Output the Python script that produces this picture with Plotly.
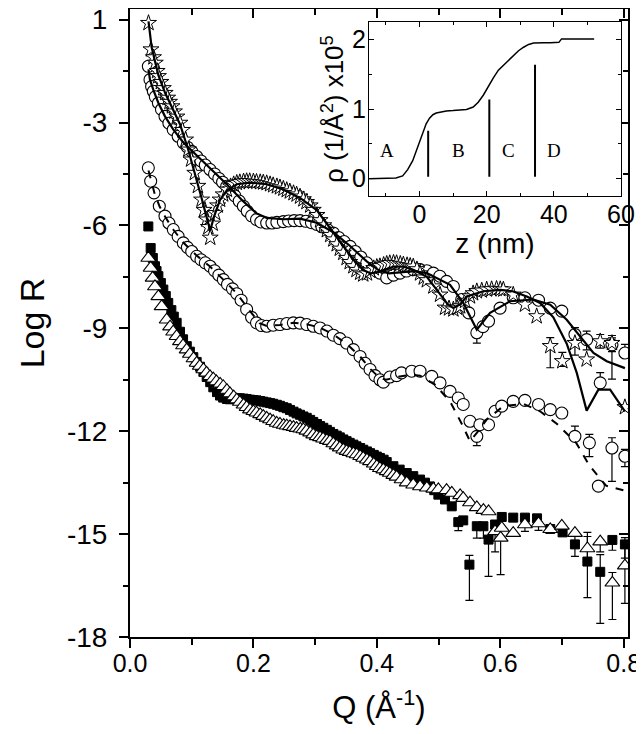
import plotly.graph_objects as go

# ---- reflectivity data (Q in 1/A, log R) ----
q_star = [0.030, 0.034, 0.038, 0.041, 0.044, 0.046, 0.050, 0.054, 0.057, 0.061, 0.064, 0.068,
          0.072, 0.076, 0.081, 0.085, 0.090, 0.0945, 0.099, 0.105, 0.110, 0.116, 0.120, 0.124,
          0.127, 0.130, 0.134, 0.138, 0.142, 0.146, 0.151, 0.157, 0.163, 0.168, 0.173, 0.178,
          0.184, 0.189, 0.194, 0.200, 0.205, 0.211, 0.216, 0.2215, 0.227, 0.232, 0.238, 0.243,
          0.2485, 0.254, 0.259, 0.265, 0.270, 0.2755, 0.281, 0.286, 0.292, 0.297, 0.303, 0.308,
          0.314, 0.319, 0.3245, 0.3295, 0.335, 0.340, 0.3457, 0.351, 0.356, 0.362, 0.367, 0.373,
          0.378, 0.384, 0.389, 0.395, 0.400, 0.405, 0.411, 0.416, 0.421, 0.427, 0.432, 0.438,
          0.443, 0.449, 0.454, 0.459, 0.465, 0.470, 0.476, 0.481, 0.4916, 0.5024, 0.5105, 0.517,
          0.524, 0.530, 0.535, 0.543, 0.551, 0.556, 0.562, 0.570, 0.578, 0.586, 0.594, 0.600,
          0.605, 0.621, 0.640, 0.659, 0.681, 0.7006, 0.721, 0.740, 0.762, 0.781, 0.802]
r_star = [-0.10, -0.87, -1.10, -1.26, -1.50, -1.65, -1.82, -2.00, -2.14, -2.28, -2.40, -2.53,
          -2.68, -2.83, -3.01, -3.22, -3.50, -3.79, -4.08, -4.47, -4.85, -5.25, -5.55, -5.83,
          -6.05, -6.36, -5.95, -5.64, -5.42, -5.25, -5.10, -4.96, -4.86, -4.80, -4.76, -4.74,
          -4.72, -4.71, -4.71, -4.72, -4.73, -4.74, -4.75, -4.77, -4.80, -4.83, -4.86, -4.89,
          -4.93, -4.97, -5.01, -5.06, -5.10, -5.16, -5.24, -5.32, -5.42, -5.55, -5.70, -5.85,
          -6.00, -6.14, -6.28, -6.41, -6.55, -6.68, -6.80, -6.95, -7.07, -7.19, -7.30, -7.38,
          -7.43, -7.40, -7.32, -7.25, -7.21, -7.19, -7.15, -7.12, -7.10, -7.09, -7.10, -7.12,
          -7.14, -7.16, -7.18, -7.20, -7.28, -7.40, -7.52, -7.60, -7.78, -8.02, -8.40, -8.42,
          -8.45, -8.40, -8.36, -8.20, -8.07, -7.98, -7.92, -7.90, -7.87, -7.86, -7.85, -7.86,
          -7.87, -8.02, -8.31, -8.65, -9.52, -9.96, -9.43, -9.91, -9.38, -9.43, -11.30]

q_circ1 = [0.0297, 0.0324, 0.0350, 0.0378, 0.041, 0.046, 0.051, 0.0567, 0.063, 0.070, 0.078,
           0.0864, 0.093, 0.100, 0.108, 0.115, 0.122, 0.1297, 0.137, 0.144, 0.150, 0.1567,
           0.163, 0.170, 0.177, 0.1837, 0.190, 0.197, 0.205, 0.212, 0.2215, 0.230, 0.238,
           0.2485, 0.257, 0.266, 0.2755, 0.285, 0.294, 0.3026, 0.311, 0.320, 0.3295, 0.338,
           0.347, 0.3566, 0.365, 0.374, 0.3836, 0.394, 0.405, 0.416, 0.427, 0.4376, 0.448,
           0.459, 0.470, 0.481, 0.4916, 0.502, 0.513, 0.524, 0.5375, 0.549, 0.562, 0.572,
           0.581, 0.5997, 0.621, 0.640, 0.662, 0.681, 0.6997, 0.721, 0.740, 0.762, 0.781, 0.802]
r_circ1 = [-1.36, -1.75, -1.95, -2.09, -2.25, -2.43, -2.62, -2.82, -3.02, -3.21, -3.40,
           -3.59, -3.72, -3.84, -3.99, -4.12, -4.24, -4.37, -4.50, -4.63, -4.74, -4.86,
           -5.00, -5.14, -5.29, -5.44, -5.58, -5.72, -5.83, -5.90, -5.93, -5.93, -5.91,
           -5.89, -5.87, -5.86, -5.86, -5.88, -5.92, -5.97, -6.04, -6.12, -6.22, -6.35,
           -6.47, -6.61, -6.76, -6.92, -7.09, -7.25, -7.39, -7.53, -7.45, -7.39, -7.33,
           -7.29, -7.29, -7.32, -7.39, -7.48, -7.63, -7.78, -8.16, -8.55, -9.13, -8.95,
           -8.79, -8.41, -8.11, -8.11, -8.18, -8.41, -8.50, -9.18, -9.33, -10.59, -9.48, -9.72]

q_circ2 = [0.0297, 0.0335, 0.0389, 0.0475, 0.0567, 0.063, 0.0702, 0.078, 0.0864, 0.093, 0.100,
           0.108, 0.115, 0.122, 0.1297, 0.137, 0.144, 0.1512, 0.158, 0.166, 0.173, 0.180,
           0.189, 0.197, 0.205, 0.213, 0.2215, 0.232, 0.243, 0.254, 0.2647, 0.2755, 0.2864,
           0.297, 0.308, 0.319, 0.3295, 0.340, 0.351, 0.362, 0.3728, 0.381, 0.389, 0.397,
           0.405, 0.4106, 0.421, 0.432, 0.440, 0.4565, 0.470, 0.489, 0.5024, 0.5186, 0.532,
           0.540, 0.551, 0.562, 0.567, 0.581, 0.5916, 0.6024, 0.621, 0.640, 0.662, 0.681,
           0.6997, 0.721, 0.7444, 0.759, 0.781, 0.802]
r_circ2 = [-4.32, -4.71, -5.05, -5.44, -5.73, -5.93, -6.12, -6.32, -6.51, -6.64, -6.76,
           -6.90, -7.00, -7.09, -7.19, -7.32, -7.45, -7.58, -7.72, -7.85, -7.99, -8.18,
           -8.45, -8.68, -8.84, -8.92, -8.94, -8.91, -8.89, -8.86, -8.84, -8.85, -8.89,
           -8.94, -8.99, -9.08, -9.20, -9.30, -9.43, -9.62, -9.82, -10.02, -10.20, -10.38,
           -10.50, -10.57, -10.42, -10.38, -10.30, -10.25, -10.25, -10.40, -10.59, -10.84, -11.03,
           -11.22, -11.71, -12.15, -11.81, -11.81, -11.42, -11.27, -11.13, -11.10, -11.22, -11.37,
           -11.47, -12.15, -12.34, -13.60, -12.49, -12.73]

q_sq = [0.0297, 0.0335, 0.037, 0.0405, 0.043, 0.046, 0.050, 0.054, 0.058, 0.062, 0.067, 0.071,
        0.0756, 0.081, 0.086, 0.092, 0.097, 0.1026, 0.108, 0.1135, 0.119, 0.1243, 0.130, 0.135,
        0.141, 0.1459, 0.151, 0.157, 0.162, 0.1675, 0.173, 0.178, 0.184, 0.189, 0.1945, 0.200,
        0.205, 0.211, 0.216, 0.2215, 0.227, 0.232, 0.238, 0.243, 0.2485, 0.254, 0.2593, 0.265,
        0.270, 0.2755, 0.281, 0.2864, 0.292, 0.297, 0.303, 0.308, 0.3133, 0.319, 0.324, 0.3295,
        0.335, 0.340, 0.3457, 0.351, 0.356, 0.362, 0.367, 0.373, 0.378, 0.384, 0.389, 0.395,
        0.400, 0.405, 0.411, 0.416, 0.4268, 0.437, 0.4484, 0.459, 0.470, 0.478, 0.486, 0.493,
        0.4997, 0.5105, 0.5214, 0.532, 0.540, 0.550, 0.562, 0.5727, 0.581, 0.5916, 0.6024,
        0.621, 0.640, 0.6596, 0.681, 0.701, 0.721, 0.7412, 0.762, 0.7817, 0.802]
r_sq = [-6.03, -6.66, -6.95, -7.19, -7.33, -7.48, -7.68, -7.87, -8.06, -8.26, -8.47, -8.66,
        -8.84, -9.10, -9.32, -9.52, -9.68, -9.84, -9.98, -10.12, -10.27, -10.42, -10.57, -10.72,
        -10.86, -10.96, -11.02, -11.06, -11.07, -11.06, -11.04, -11.04, -11.05, -11.06, -11.08, -11.09,
        -11.10, -11.12, -11.14, -11.16, -11.18, -11.20, -11.23, -11.26, -11.30, -11.33, -11.38, -11.43,
        -11.48, -11.52, -11.57, -11.61, -11.67, -11.73, -11.79, -11.85, -11.90, -11.96, -12.02, -12.08,
        -12.13, -12.18, -12.24, -12.29, -12.34, -12.39, -12.44, -12.49, -12.54, -12.59, -12.64, -12.69,
        -12.74, -12.78, -12.83, -12.90, -13.02, -13.12, -13.22, -13.31, -13.41, -13.50, -13.61, -13.72,
        -13.85, -13.99, -14.19, -14.65, -14.60, -15.89, -14.77, -14.77, -15.16, -14.72, -14.50,
        -14.52, -14.52, -14.54, -14.85, -14.95, -15.30, -15.80, -16.10, -15.17, -15.30]

q_tri = [0.0297, 0.0335, 0.0367, 0.0405, 0.046, 0.0513, 0.0594, 0.065, 0.070, 0.0756, 0.081,
         0.086, 0.0918, 0.097, 0.103, 0.108, 0.113, 0.119, 0.124, 0.1297, 0.135, 0.140, 0.146,
         0.1512, 0.157, 0.162, 0.168, 0.173, 0.178, 0.184, 0.189, 0.1945, 0.200, 0.205, 0.211,
         0.216, 0.2215, 0.227, 0.232, 0.2377, 0.243, 0.249, 0.254, 0.2593, 0.265, 0.270, 0.276,
         0.281, 0.286, 0.292, 0.297, 0.3026, 0.308, 0.313, 0.319, 0.324, 0.3295, 0.335, 0.340,
         0.3457, 0.351, 0.356, 0.362, 0.3674, 0.373, 0.378, 0.384, 0.389, 0.395, 0.400, 0.405,
         0.4106, 0.416, 0.421, 0.4268, 0.432, 0.440, 0.4484, 0.459, 0.470, 0.481, 0.4916, 0.4997,
         0.513, 0.5214, 0.535, 0.540, 0.551, 0.562, 0.5727, 0.581, 0.5916, 0.6006, 0.6024, 0.621,
         0.640, 0.662, 0.681, 0.6997, 0.721, 0.7412, 0.762, 0.7817, 0.802]
r_tri = [-6.95, -7.24, -7.53, -7.78, -8.07, -8.36, -8.75, -8.95, -9.10, -9.23, -9.38,
         -9.50, -9.62, -9.75, -9.88, -10.01, -10.10, -10.20, -10.30, -10.40, -10.47, -10.55, -10.62,
         -10.69, -10.80, -10.90, -10.99, -11.08, -11.15, -11.23, -11.30, -11.37, -11.42, -11.46, -11.51,
         -11.56, -11.61, -11.66, -11.71, -11.76, -11.79, -11.82, -11.84, -11.86, -11.88, -11.91, -11.93,
         -11.95, -11.99, -12.04, -12.10, -12.15, -12.18, -12.22, -12.26, -12.29, -12.36, -12.42, -12.48,
         -12.54, -12.58, -12.61, -12.65, -12.68, -12.73, -12.78, -12.83, -12.88, -12.95, -13.02, -13.08,
         -13.12, -13.17, -13.22, -13.28, -13.33, -13.41, -13.50, -13.56, -13.61, -13.65, -13.68, -13.70,
         -13.72, -13.80, -13.87, -13.95, -14.08, -14.22, -14.30, -14.34, -14.92, -15.11, -14.82, -14.97,
         -14.72, -14.69, -14.86, -14.76, -14.97, -15.42, -15.22, -16.42, -15.92]

# error bars: centre, upper and lower extent
star_err_q = [0.681, 0.7006, 0.721, 0.762, 0.781]
star_err_r = [-9.52, -9.96, -9.43, -9.38, -9.43]
star_err_up = [0.25, 0.26, 0.20, 0.20, 0.15]
star_err_dn = [0.63, 0.15, 0.35, 0.20, 0.25]

circ1_err_q = [0.562, 0.721, 0.740, 0.762, 0.781, 0.802]
circ1_err_r = [-9.13, -9.18, -9.33, -10.59, -9.48, -9.72]
circ1_err_up = [0.10, 0.20, 0.25, 0.30, 0.27, 0.25]
circ1_err_dn = [0.30, 0.20, 0.30, 0.10, 1.00, 0.10]

circ2_err_q = [0.562, 0.721, 0.7444, 0.781, 0.802]
circ2_err_r = [-12.15, -12.15, -12.34, -12.49, -12.73]
circ2_err_up = [0.10, 0.30, 0.25, 0.30, 0.20]
circ2_err_dn = [0.27, 0.10, 0.40, 0.97, 0.30]

sq_err_q = [0.532, 0.550, 0.562, 0.5727, 0.581, 0.721, 0.7412, 0.762, 0.7817, 0.802]
sq_err_r = [-14.65, -15.89, -14.77, -14.77, -15.16, -15.30, -15.80, -16.10, -15.17, -15.30]
sq_err_up = [0.05, 0.27, 0.05, 0.05, 0.05, 0.25, 0.85, 0.50, 0.10, 0.20]
sq_err_dn = [0.25, 1.04, 0.35, 0.35, 1.07, 0.35, 1.05, 1.50, 0.30, 0.40]

tri_err_q = [0.5916, 0.6006, 0.640, 0.662, 0.7412, 0.762, 0.7817, 0.802]
tri_err_r = [-14.92, -15.11, -14.72, -14.69, -15.42, -15.22, -16.42, -15.92]
tri_err_up = [0.05, 0.05, 0.05, 0.05, 0.35, 0.05, 0.30, 0.50]
tri_err_dn = [0.60, 1.07, 0.20, 0.20, 0.35, 0.30, 1.07, 1.10]

# model fits
q_fit1 = [0.030, 0.035, 0.041, 0.046, 0.057, 0.068, 0.081, 0.0945, 0.105, 0.116, 0.124, 0.130,
          0.136, 0.146, 0.157, 0.173, 0.194, 0.2215, 0.2485, 0.2755, 0.3026, 0.3295, 0.3457,
          0.362, 0.378, 0.390, 0.405, 0.427, 0.443, 0.460, 0.481, 0.500, 0.515, 0.524, 0.535,
          0.5457, 0.5727, 0.600, 0.620, 0.643, 0.6645, 0.686, 0.7077, 0.724, 0.740, 0.759,
          0.778, 0.802]
r_fit1 = [-0.05, -0.80, -1.25, -1.62, -2.14, -2.55, -3.05, -3.80, -4.45, -5.20, -5.75, -6.15,
          -5.75, -5.25, -4.98, -4.80, -4.75, -4.80, -4.95, -5.20, -5.55, -6.20, -6.60,
          -7.00, -7.30, -7.40, -7.35, -7.20, -7.20, -7.30, -7.50, -7.95, -8.30, -8.41, -8.30,
          -8.07, -7.92, -7.88, -7.92, -8.07, -8.26, -8.68, -9.45, -10.30, -11.40, -10.79,
          -10.79, -11.42]

q_fit2 = [0.030, 0.0324, 0.0378, 0.046, 0.0567, 0.070, 0.0864, 0.108, 0.1297, 0.1567, 0.1837,
          0.205, 0.2215, 0.2485, 0.2755, 0.3026, 0.3295, 0.3566, 0.3836, 0.405, 0.420, 0.4376,
          0.460, 0.481, 0.5186, 0.540, 0.562, 0.5835, 0.616, 0.6537, 0.681, 0.7077, 0.729,
          0.751, 0.7726, 0.802]
r_fit2 = [-1.45, -1.75, -2.05, -2.43, -2.82, -3.20, -3.58, -3.95, -4.33, -4.80, -5.30,
          -5.65, -5.78, -5.82, -5.80, -5.92, -6.20, -6.60, -7.05, -7.33, -7.40, -7.36,
          -7.33, -7.39, -7.73, -8.26, -9.04, -8.55, -8.21, -8.16, -8.31, -8.75, -9.23,
          -9.72, -9.96, -10.16]

q_fit3 = [0.030, 0.035, 0.040, 0.048, 0.057, 0.070, 0.0864, 0.108, 0.1297, 0.1512, 0.173,
          0.1945, 0.210, 0.2215, 0.243, 0.2647, 0.2864, 0.308, 0.3295, 0.351, 0.3728, 0.389,
          0.405, 0.415, 0.432, 0.455, 0.470, 0.494, 0.5186, 0.5375, 0.551, 0.562, 0.578,
          0.605, 0.6375, 0.6645, 0.6915, 0.723, 0.7445, 0.7715, 0.797, 0.805]
r_fit3 = [-4.40, -4.78, -5.08, -5.45, -5.75, -6.12, -6.50, -6.88, -7.20, -7.58, -7.98,
          -8.50, -8.85, -8.93, -8.90, -8.84, -8.88, -8.98, -9.18, -9.45, -9.82, -10.18,
          -10.45, -10.50, -10.42, -10.35, -10.38, -10.64, -11.13, -11.78, -12.29, -12.05, -11.66,
          -11.27, -11.20, -11.42, -11.78, -12.34, -13.00, -13.59, -13.70, -13.75]

y_tickvals = [0, -3, -6, -9, -12, -15, -18]
y_ticktext = ["1", "-3", "-6", "-9", "-12", "-15", "-18"]
x_tickvals = [0.0, 0.2, 0.4, 0.6, 0.8]
x_ticktext = ["0.0", "0.2", "0.4", "0.6", "0.8"]

# ---- inset: density profile ----
z_prof = [-15, -10, -7, -5, -3.5, -2, -1, 0, 1, 2, 3, 4, 5, 6.5, 8, 10, 12, 14, 16, 17.5, 19,
          20.5, 22, 23.5, 25, 26.5, 28, 29.5, 31, 32.5, 34, 35.5, 37, 39, 40.5, 41.5, 42.3, 44,
          48, 52]
rho_prof = [0, 0, 0.01, 0.04, 0.13, 0.26, 0.40, 0.52, 0.66, 0.79, 0.87, 0.92, 0.945, 0.965,
            0.975, 0.98, 0.985, 0.995, 1.03, 1.10, 1.20, 1.33, 1.45, 1.56, 1.63, 1.70, 1.78,
            1.84, 1.89, 1.93, 1.95, 1.955, 1.955, 1.955, 1.955, 1.96, 2.01, 2.01, 2.01, 2.01]
div_z = [2.6, 20.8, 34.4]
div_top = [0.69, 1.14, 1.64]
div_bottom = [0.03, 0.03, 0.03]
region_labels = ["A", "B", "C", "D"]
region_z = [-9.7, 11.6, 26.5, 39.9]
region_rho = [0.41, 0.41, 0.41, 0.41]

FONT = "Liberation Sans, Arial, sans-serif"
SERIF = "Liberation Serif, Times New Roman, serif"

fig = go.Figure()


def err_trace(q, r, up, dn):
    return go.Scatter(
        x=q, y=r, mode="markers", marker=dict(size=1, color="rgba(0,0,0,0)"),
        error_y=dict(type="data", symmetric=False, array=up, arrayminus=dn,
                     color="black", thickness=1.2, width=4),
        showlegend=False, hoverinfo="skip",
    )


for eq, er, eu, ed in [(sq_err_q, sq_err_r, sq_err_up, sq_err_dn),
                       (tri_err_q, tri_err_r, tri_err_up, tri_err_dn),
                       (circ2_err_q, circ2_err_r, circ2_err_up, circ2_err_dn),
                       (circ1_err_q, circ1_err_r, circ1_err_up, circ1_err_dn),
                       (star_err_q, star_err_r, star_err_up, star_err_dn)]:
    fig.add_trace(err_trace(eq, er, eu, ed))

fig.add_trace(go.Scatter(x=q_sq, y=r_sq, mode="markers", showlegend=False,
                         marker=dict(symbol="square", size=9, color="black",
                                     line=dict(color="black", width=1))))
fig.add_trace(go.Scatter(x=q_tri, y=r_tri, mode="markers", showlegend=False,
                         marker=dict(symbol="triangle-up", size=13, color="white",
                                     line=dict(color="black", width=1.1))))
fig.add_trace(go.Scatter(x=q_circ2, y=r_circ2, mode="markers", showlegend=False,
                         marker=dict(symbol="circle", size=12, color="white",
                                     line=dict(color="black", width=1.1))))
fig.add_trace(go.Scatter(x=q_fit3, y=r_fit3, mode="lines", showlegend=False,
                         line=dict(color="black", width=2, dash="8px,8px")))
fig.add_trace(go.Scatter(x=q_circ1, y=r_circ1, mode="markers", showlegend=False,
                         marker=dict(symbol="circle", size=12, color="white",
                                     line=dict(color="black", width=1.1))))
fig.add_trace(go.Scatter(x=q_star, y=r_star, mode="markers", showlegend=False,
                         marker=dict(symbol="star", size=12, color="white",
                                     line=dict(color="black", width=1))))
fig.add_trace(go.Scatter(x=q_fit2, y=r_fit2, mode="lines", showlegend=False,
                         line=dict(color="black", width=2.2)))
fig.add_trace(go.Scatter(x=q_fit1, y=r_fit1, mode="lines", showlegend=False,
                         line=dict(color="black", width=2.2)))

# inward ticks on the top and right edges of the main frame
fig.add_trace(go.Scatter(x=q_fit1[:1], y=r_fit1[:1], xaxis="x3", yaxis="y3", mode="markers",
                         marker=dict(size=1, color="rgba(0,0,0,0)"), showlegend=False,
                         hoverinfo="skip"))

# inset
fig.add_trace(go.Scatter(x=z_prof, y=rho_prof, xaxis="x2", yaxis="y2", mode="lines",
                         line=dict(color="black", width=1.5), showlegend=False))
div_x, div_y = [], []
for z, top, bot in zip(div_z, div_top, div_bottom):
    div_x += [z, z, None]
    div_y += [bot, top, None]
fig.add_trace(go.Scatter(x=div_x, y=div_y, xaxis="x2", yaxis="y2", mode="lines",
                         line=dict(color="black", width=2), showlegend=False))

for lab, z, rho in zip(region_labels, region_z, region_rho):
    fig.add_annotation(x=z, y=rho, xref="x2", yref="y2", text=lab, showarrow=False,
                       font=dict(family=SERIF, size=19, color="black"))

x_range = [0, 0.807]
y_range = [-18, 0.31]
main_axis = dict(showline=True, linecolor="black", linewidth=2, showgrid=False,
                 zeroline=False, ticks="outside", tickcolor="black", tickwidth=1.5,
                 ticklen=9, automargin=False, ticklabeloverflow="allow")

# the page body adds an 8 px margin, so the figure is 8 px smaller than the window
fig.update_layout(
    width=636, height=726,
    margin=dict(l=122, r=16, t=1, b=97, autoexpand=False),
    paper_bgcolor="white", plot_bgcolor="white",
    font=dict(family=FONT, color="black"),
    xaxis=dict(main_axis, range=x_range, tickvals=x_tickvals, ticktext=x_ticktext,
               tickfont=dict(family=FONT, size=25, color="black"),
               minor=dict(dtick=0.1, tick0=0, ticks="outside", ticklen=6, tickcolor="black",
                          tickwidth=1.5),
               ticklabelstandoff=-6,
               title=dict(text="Q (Å<sup>-1</sup>)", font=dict(size=31), standoff=20)),
    yaxis=dict(main_axis, range=y_range, tickvals=y_tickvals, ticktext=y_ticktext,
               tickfont=dict(family=FONT, size=28, color="black"),
               minor=dict(dtick=1.5, tick0=0, ticks="outside", ticklen=5, tickcolor="black",
                          tickwidth=1.5),
               ticklabelstandoff=6,
               title=dict(text="Log R", font=dict(size=34), standoff=12)),
    xaxis3=dict(overlaying="x", side="top", anchor="y", range=x_range, showline=True,
                linecolor="black", linewidth=2, showgrid=False, zeroline=False,
                ticks="inside", ticklen=9, tickwidth=1.5, tickcolor="black",
                tickvals=x_tickvals, showticklabels=False, automargin=False,
                minor=dict(dtick=0.1, tick0=0, ticks="inside", ticklen=6, tickcolor="black",
                           tickwidth=1.5)),
    yaxis3=dict(overlaying="y", side="right", anchor="x", range=y_range, showline=True,
                linecolor="black", linewidth=2, showgrid=False, zeroline=False,
                ticks="inside", ticklen=9, tickwidth=1.5, tickcolor="black",
                tickvals=y_tickvals, showticklabels=False, automargin=False,
                minor=dict(dtick=1.5, tick0=0, ticks="inside", ticklen=5, tickcolor="black",
                           tickwidth=1.5)),
    xaxis2=dict(domain=[0.480, 0.986], anchor="y2", range=[-15, 60], showline=True,
                mirror="ticks", linecolor="black", linewidth=1.2, showgrid=False,
                zeroline=False, ticks="inside", ticklen=5, tickwidth=1.2, tickcolor="black",
                tickvals=[0, 20, 40, 60], automargin=False, ticklabelstandoff=-4,
                minor=dict(dtick=10, tick0=0, ticks="inside", ticklen=3, tickcolor="black"),
                tickfont=dict(family=FONT, size=25, color="black"),
                title=dict(text="z (nm)", font=dict(size=28), standoff=0)),
    yaxis2=dict(domain=[0.702, 0.979], anchor="x2", range=[-0.25, 2.25], showline=True,
                mirror="ticks", linecolor="black", linewidth=1.2, showgrid=False,
                zeroline=False, ticks="inside", ticklen=5, tickwidth=1.2, tickcolor="black",
                tickvals=[0, 1, 2], automargin=False, ticklabelstandoff=-3,
                minor=dict(dtick=0.5, tick0=0, ticks="inside", ticklen=3, tickcolor="black"),
                tickfont=dict(family=FONT, size=25, color="black"),
                title=dict(text="ρ (1/Å<sup>2</sup>) x10<sup>5</sup>", font=dict(size=26),
                           standoff=0)),
)

fig.write_html("out.html")
